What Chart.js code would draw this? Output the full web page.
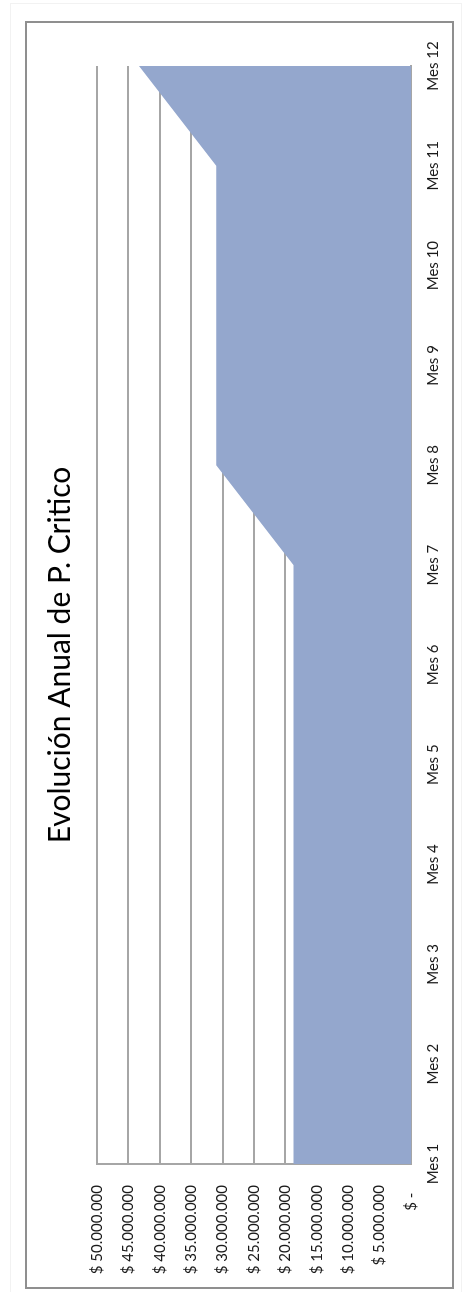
<!DOCTYPE html>
<html lang="es">
<head>
<meta charset="utf-8">
<title>Evolución Anual de P. Critico</title>
<script src="https://cdn.jsdelivr.net/npm/chart.js@4.4.1/dist/chart.umd.min.js"></script>
<style>
  html, body { margin: 0; padding: 0; background: #fff; }
  body { width: 466px; height: 1292px; position: relative; overflow: hidden; }
  /* marco tenue de la hoja */
  #hoja {
    position: absolute; left: 10px; top: 3px; width: 452px; height: 1292px;
    border: 1px solid #f2f2f2; border-bottom: none; box-sizing: border-box;
  }
  /* el grafico se dibuja horizontal y se gira 90 grados a la izquierda */
  #marco {
    position: absolute; left: 0; top: 0;
    width: 1268px; height: 429px;
    box-sizing: border-box;
    border: 2px solid #8f8f8f;
    background: #fff;
    transform-origin: 0 0;
    transform: translate(25px, 1289px) rotate(-90deg);
  }
  #grafico { display: block; }
</style>
</head>
<body>
<div id="hoja"></div>
<div id="marco">
  <canvas id="grafico" width="1264" height="425"></canvas>
</div>
<script>
// Datos
const meses = ['Mes 1', 'Mes 2', 'Mes 3', 'Mes 4', 'Mes 5', 'Mes 6',
               'Mes 7', 'Mes 8', 'Mes 9', 'Mes 10', 'Mes 11', 'Mes 12'];
const puntoCritico = [18700000, 18700000, 18700000, 18700000, 18700000, 18700000,
                      18700000, 31000000, 31000000, 31000000, 31000000, 43300000];
const valoresEje = [0, 5000000, 10000000, 15000000, 20000000, 25000000,
                    30000000, 35000000, 40000000, 45000000, 50000000];
const etiquetasEje = ['$ -  ', '$ 5.000.000', '$ 10.000.000', '$ 15.000.000', '$ 20.000.000',
                      '$ 25.000.000', '$ 30.000.000', '$ 35.000.000', '$ 40.000.000',
                      '$ 45.000.000', '$ 50.000.000'];

const fuente = "Lato, 'Open Sans', 'Liberation Sans', sans-serif";
const gris = '#a6a6a6';

const ctx = document.getElementById('grafico').getContext('2d');
new Chart(ctx, {
    type: 'line',
    data: {
        labels: meses,
        datasets: [{
            label: 'P. Critico',
            data: puntoCritico,
            fill: 'origin',
            backgroundColor: '#94a7cd',
            borderWidth: 0,
            borderColor: 'rgba(0,0,0,0)',
            pointRadius: 0,
            tension: 0
        }]
    },
    options: {
        responsive: false,
        animation: false,
        devicePixelRatio: 1,
        layout: { padding: 0 },
        plugins: {
            legend: { display: false },
            tooltip: { enabled: false },
            title: {
                display: true,
                text: 'Evolución Anual de P. Critico',
                color: '#000',
                font: { family: fuente, size: 30, weight: 'normal', lineHeight: 1.2 },
                padding: { top: 15, bottom: 19 }
            }
        },
        scales: {
            x: {
                type: 'category',
                offset: false,
                grid: { display: false, drawTicks: false },
                border: { display: true, color: gris, width: 2 },
                ticks: {
                    color: '#1a1a1a',
                    font: { family: fuente, size: 15 },
                    padding: 13,
                    maxRotation: 0,
                    autoSkip: false
                },
                afterFit: function(scale) {
                    scale.height = 41;
                    scale.paddingRight = 43;
                }
            },
            y: {
                min: 0,
                max: 50000000,
                afterBuildTicks: function(scale) {
                    scale.ticks = valoresEje.map(v => ({ value: v }));
                },
                grid: { color: gris, lineWidth: 2, drawTicks: false },
                border: { display: true, color: gris, width: 2 },
                ticks: {
                    color: '#1a1a1a',
                    font: { family: fuente, size: 15 },
                    padding: 21,
                    callback: function(value, index) {
                        return etiquetasEje[index];
                    }
                },
                afterFit: function(scale) {
                    scale.width = 123;
                }
            }
        }
    }
});
</script>
</body>
</html>
